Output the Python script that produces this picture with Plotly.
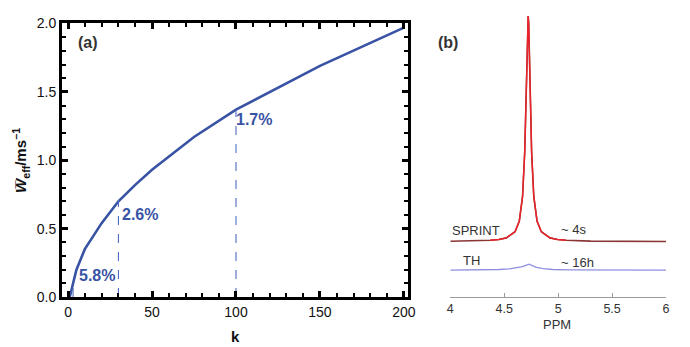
import plotly.graph_objects as go

# ---------------- Panel (a) data ----------------
k_vals = [1, 5, 10, 20, 30, 40, 50, 75, 100, 150, 200]
w_eff = [0.0, 0.2, 0.35, 0.54, 0.70, 0.82, 0.93, 1.17, 1.37, 1.69, 1.97]
marker_k = [3, 30, 100]
marker_w = [0.08, 0.71, 1.37]
pct_labels = ["5.8%", "2.6%", "1.7%"]
pct_label_k = [17.3, 43, 111]
pct_label_w = [0.155, 0.60, 1.30]

# ---------------- Panel (b) data ----------------
ppm_sprint = [4.00, 4.20, 4.37, 4.45, 4.52, 4.60, 4.64, 4.67, 4.69, 4.70, 4.71, 4.717,
              4.722, 4.727, 4.734, 4.744, 4.754, 4.774, 4.804, 4.844, 4.924, 4.994,
              5.074, 5.30, 5.60, 6.00]
int_sprint = [0.3, 0.6, 1.3, 2.1, 3.8, 10.1, 21.2, 46.4, 92, 135, 191, 224,
              232, 224, 191, 135, 92, 46.4, 21.2, 10.1, 3.8, 2.1,
              1.3, 0.5, 0.2, 0.1]
ppm_th = [4.0, 4.3, 4.45, 4.55, 4.62, 4.67, 4.70, 4.73, 4.76, 4.80, 4.86, 4.95, 5.1, 5.5, 6.0]
int_th = [0, 0.2, 0.6, 1.2, 2.2, 3.5, 4.8, 6.0, 4.6, 2.8, 1.4, 0.6, 0.2, 0.05, 0]
offset_sprint = 57
offset_th = 27.7

BLUE = "#3953a4"
FONT = "Liberation Sans"

fig = go.Figure()

# curve (a)
fig.add_trace(go.Scatter(x=k_vals, y=w_eff, mode="lines",
                         line=dict(color=BLUE, width=2.6), xaxis="x", yaxis="y"))
for kk, ww in zip(marker_k, marker_w):
    fig.add_trace(go.Scatter(x=[kk, kk], y=[0, ww], mode="lines",
                             line=dict(color="#4d6cc4", width=1.1, dash="dash"),
                             xaxis="x", yaxis="y"))

# spectra (b)
y_s = [offset_sprint + v for v in int_sprint]
fig.add_trace(go.Scatter(x=ppm_sprint, y=y_s, mode="lines",
                         line=dict(color="#8a3434", width=1.6), xaxis="x2", yaxis="y2"))
red_x = [p for p in ppm_sprint if 4.36 <= p <= 5.08]
red_y = [offset_sprint + v for p, v in zip(ppm_sprint, int_sprint) if 4.36 <= p <= 5.08]
fig.add_trace(go.Scatter(x=red_x, y=red_y, mode="lines",
                         line=dict(color="#ee2228", width=1.4), xaxis="x2", yaxis="y2"))
fig.add_trace(go.Scatter(x=ppm_th, y=[offset_th + v for v in int_th], mode="lines",
                         line=dict(color="#8f8fe0", width=1.3), xaxis="x2", yaxis="y2"))

tickfont_a = dict(family=FONT, size=14, color="#111111")

annotations = []
for t, kx, wy in zip(pct_labels, pct_label_k, pct_label_w):
    annotations.append(dict(x=kx, y=wy, xref="x", yref="y", text="<b>%s</b>" % t,
                            xanchor="center", yanchor="middle",
                            showarrow=False, font=dict(family=FONT, size=16, color=BLUE)))

def px_x(px):
    return (px - 62) / 604.0

def px_y(py):
    return (297 - py) / 289.0

def ann(x, y, text, xref="paper", yref="paper", size=13, color="#333333", **kw):
    d = dict(x=x, y=y, xref=xref, yref=yref, text=text, showarrow=False,
             xanchor="center", yanchor="middle",
             font=dict(family=FONT, size=size, color=color))
    d.update(kw)
    return d

annotations += [
    ann(px_x(236), px_y(338), "<b>k</b>", size=15, color="#111111"),
    ann(px_x(21), px_y(157), "<b><i>W\u0305</i><sub>eff</sub>/ms<sup>\u22121</sup></b>",
        size=15, color="#111111", textangle=-90),
    ann(px_x(88), px_y(35), "<b>(a)</b>", size=16),
    ann(px_x(448), px_y(35), "<b>(b)</b>", size=16),
    ann(4.238, 68, "SPRINT", xref="x2", yref="y2"),
    ann(4.198, 37.7, "TH", xref="x2", yref="y2"),
    ann(5.145, 69, "~ 4s", xref="x2", yref="y2"),
    ann(5.182, 36, "~ 16h", xref="x2", yref="y2"),
    ann(4.985, px_y(325), "PPM", xref="x2", yref="paper"),
]

fig.update_layout(
    width=690, height=347,
    margin=dict(l=62, r=24, t=8, b=50),
    paper_bgcolor="white", plot_bgcolor="white",
    showlegend=False, hovermode=False,
    xaxis=dict(domain=[0, 0.5728], range=[-3.6, 202.4],
               tickmode="linear", tick0=0, dtick=50,
               showline=True, linewidth=3, linecolor="black", mirror="allticks",
               ticks="inside", ticklen=6, tickwidth=2.5, tickcolor="black",
               minor=dict(ticks="inside", ticklen=4, tickwidth=2, tickcolor="black",
                          dtick=10),
               showgrid=False, zeroline=False, tickfont=tickfont_a),
    yaxis=dict(domain=[0, 0.9734], range=[0, 2],
               tickmode="linear", tick0=0, dtick=0.5, tickformat=".1f",
               showline=True, linewidth=3, linecolor="black", mirror="allticks",
               ticks="inside", ticklen=6, tickwidth=2.5, tickcolor="black",
               minor=dict(ticks="inside", ticklen=4, tickwidth=2, tickcolor="black",
                          dtick=0.1),
               showgrid=False, zeroline=False, tickfont=tickfont_a),
    xaxis2=dict(domain=[0.6429, 1.0], range=[4, 6],
                tickmode="linear", tick0=4, dtick=0.5,
                showline=True, linewidth=1, linecolor="#9a9a9a",
                ticks="inside", ticklen=4, tickwidth=1, tickcolor="#9a9a9a",
                showgrid=False, zeroline=False,
                tickfont=dict(family=FONT, size=12.5, color="#333333"), anchor="y2"),
    yaxis2=dict(domain=[0, 1.0], range=[0, 289], visible=False, anchor="x2"),
    annotations=annotations,
)
fig.update_xaxes(tickfont_weight="bold", selector=dict(anchor="y"))
fig.update_yaxes(tickfont_weight="bold", selector=dict(anchor="x"))

fig.write_html("out.html", post_script="document.body.style.margin='0';",
               config={"displayModeBar": False})
